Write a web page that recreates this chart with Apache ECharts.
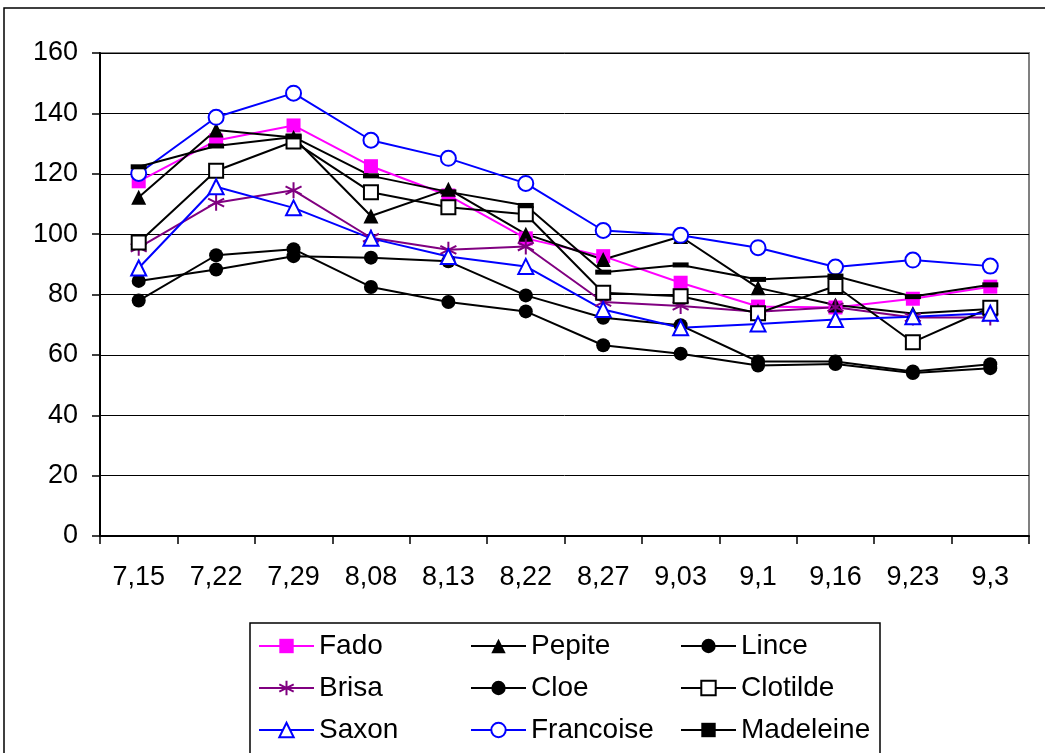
<!DOCTYPE html>
<html>
<head>
<meta charset="utf-8">
<script src="https://cdn.jsdelivr.net/npm/echarts@6/dist/echarts.min.js"></script>
<style>
  html, body { margin: 0; padding: 0; background: #fff; }
  #chart { width: 1045px; height: 753px; }
</style>
</head>
<body>
<div id="chart"></div>
<script>
// dates on the x axis
const dates = ['7,15', '7,22', '7,29', '8,08', '8,13', '8,22', '8,27', '9,03', '9,1', '9,16', '9,23', '9,3'];

// values per variety
const fado      = [117.5, 131.0, 136.0, 122.5, 112.8, 98.6, 92.7, 83.9, 76.0, 75.7, 78.6, 82.6];
const pepite    = [112.2, 134.5, 132.0, 106.0, 114.9, 100.0, 91.6, 99.2, 82.2, 76.5, 73.7, 75.2];
const lince     = [84.5, 88.3, 92.7, 92.2, 91.0, 79.7, 72.3, 69.8, 57.8, 57.8, 54.5, 56.9];
const brisa     = [95.5, 110.4, 114.5, 98.8, 94.8, 95.9, 77.5, 76.2, 74.3, 75.8, 72.4, 72.4];
const cloe      = [78.0, 93.0, 95.0, 82.5, 77.5, 74.4, 63.2, 60.4, 56.5, 57.0, 54.0, 55.6];
const clotilde  = [97.2, 121.0, 130.7, 113.9, 108.9, 106.6, 80.6, 79.4, 73.8, 82.8, 64.2, 75.6];
const saxon     = [88.8, 115.7, 108.7, 98.6, 92.6, 89.3, 75.0, 69.0, 70.2, 71.7, 72.6, 73.8];
const francoise = [120.1, 138.7, 146.7, 131.1, 125.1, 116.8, 101.2, 99.6, 95.5, 89.1, 91.4, 89.4];
const madeleine = [122.3, 129.2, 132.2, 119.3, 114.0, 109.5, 87.4, 89.8, 85.0, 86.1, 79.3, 83.2];

const FONT = 'Liberation Sans, Arial, sans-serif';
const asterisk = 'path://M5,0 L5,10 M0.7,2.5 L9.3,7.5 M0.7,7.5 L9.3,2.5';

function line(name, data, color, symbol, size, fill) {
  return {
    name: name,
    type: 'line',
    data: data,
    symbol: symbol,
    symbolSize: size,
    showAllSymbol: true,
    lineStyle: { color: color, width: 2 },
    itemStyle: {
      color: fill || color,
      borderColor: color,
      borderWidth: fill ? 2 : (symbol === asterisk ? 2 : 0)
    },
    emphasis: { disabled: true }
  };
}

const legendText = { fontFamily: FONT, fontSize: 28, color: '#000', lineHeight: 30 };
function legendCol(left, names) {
  return {
    orient: 'vertical',
    left: left,
    top: 631,
    padding: 0,
    itemWidth: 55,
    itemHeight: 18,
    itemGap: 12,
    selectedMode: false,
    textStyle: legendText,
    data: names
  };
}

const option = {
  backgroundColor: '#fff',
  animation: false,
  graphic: [
    { type: 'rect', shape: { x: 4, y: 8, width: 1100, height: 800 },
      style: { fill: 'none', stroke: '#000', lineWidth: 1.5 }, z: -1 },
    { type: 'rect', shape: { x: 250, y: 623, width: 630, height: 140 },
      style: { fill: '#fff', stroke: '#000', lineWidth: 1.5 }, z: -1 }
  ],
  grid: {
    left: 100, right: 16, top: 53, bottom: 217,
    show: true, borderColor: '#808080', borderWidth: 2
  },
  legend: [
    legendCol(258, ['Fado', 'Brisa', 'Saxon']),
    legendCol(470, ['Pepite', 'Cloe', 'Francoise']),
    legendCol(680, ['Lince', 'Clotilde', 'Madeleine'])
  ],
  xAxis: {
    type: 'category',
    data: dates,
    boundaryGap: true,
    axisLine: { lineStyle: { color: '#000', width: 2 } },
    axisTick: { show: true, length: 8, lineStyle: { color: '#000', width: 1.5 } },
    axisLabel: { fontFamily: FONT, fontSize: 27, color: '#000', margin: 28 },
    splitLine: { show: false }
  },
  yAxis: {
    type: 'value',
    min: 0, max: 160, interval: 20,
    axisLine: { show: true, lineStyle: { color: '#000', width: 2 } },
    axisTick: { show: true, length: 8, lineStyle: { color: '#000', width: 1.5 } },
    axisLabel: { fontFamily: FONT, fontSize: 27, color: '#000', margin: 22 },
    splitLine: { lineStyle: { color: '#000', width: 1 } }
  },
  series: [
    line('Fado', fado, '#ff00ff', 'rect', 14),
    line('Pepite', pepite, '#000', 'triangle', 15),
    line('Lince', lince, '#000', 'circle', 14),
    line('Brisa', brisa, '#800080', asterisk, 16),
    line('Cloe', cloe, '#000', 'circle', 14),
    line('Clotilde', clotilde, '#000', 'rect', 14, '#fff'),
    line('Saxon', saxon, '#0000ff', 'triangle', 15, '#fff'),
    line('Francoise', francoise, '#0000ff', 'circle', 15, '#fff'),
    line('Madeleine', madeleine, '#000', 'rect', [16, 5])
  ]
};

const myChart = echarts.init(document.getElementById('chart'));
myChart.setOption(option);
</script>
</body>
</html>
